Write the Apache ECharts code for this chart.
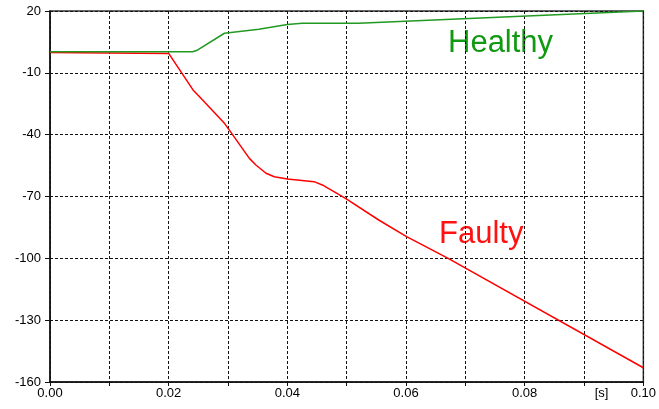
<!DOCTYPE html>
<html>
<head>
<meta charset="utf-8">
<script src="https://cdn.jsdelivr.net/npm/echarts@6/dist/echarts.min.js"></script>
<style>
html,body{margin:0;padding:0;background:#fff;}
#c{width:659px;height:409px;}
</style>
</head>
<body>
<div id="c"></div>
<script>
// Time values [s] and voltage/value series
const healthyX = [0, 0.022, 0.024, 0.0247, 0.0294, 0.0352, 0.0400, 0.0425, 0.0520, 0.1000];
const healthyY = [0.2, 0.2, 0.2, 0.8, 9.2, 11.1, 13.5, 14.0, 14.0, 20.0];
const faultyX = [0, 0.0200, 0.0241, 0.0252, 0.0294, 0.0302, 0.0336, 0.0347, 0.0364, 0.0378, 0.0400, 0.0445, 0.0459, 0.0498, 0.0554, 0.0601, 0.0671, 0.1000];
const faultyY = [-0.1, -0.6, -18.3, -21.6, -34.5, -37.7, -51.5, -54.7, -58.7, -60.4, -61.5, -62.8, -64.4, -70.9, -81.4, -89.5, -100.0, -153.1];
const xTickLabels = ['0.00', '', '0.02', '', '0.04', '', '0.06', '', '0.08', '[s]', '0.10'];
const seriesNames = ['Healthy', 'Faulty'];

const font = '"Liberation Sans", Arial, sans-serif';
const zip = (xs, ys) => xs.map((x, i) => [x, ys[i]]);

const chart = echarts.init(document.getElementById('c'), null, {renderer: 'canvas'});
chart.setOption({
  animation: false,
  backgroundColor: '#fff',
  grid: {left: 50, right: 13, top: 11, bottom: 27, show: true, borderColor: '#333', borderWidth: 1.5, backgroundColor: 'transparent'},
  xAxis: {
    type: 'value', min: 0, max: 0.1, interval: 0.01,
    axisLine: {show: true, onZero: false, lineStyle: {color: '#111', width: 1.5}},
    axisTick: {show: true, inside: false, length: 4, lineStyle: {color: '#111', width: 1}},
    splitLine: {show: true, lineStyle: {color: '#111', type: [3, 2], width: 1}},
    axisLabel: {
      color: '#000', fontSize: 13, fontFamily: font, margin: 5,
      formatter: (v, i) => {
        const idx = Math.round(v * 100);
        const t = xTickLabels[idx] || '';
        return t === '[s]' ? '{u|[s]}' : t;
      },
      rich: {u: {color: '#000', fontSize: 13, fontFamily: font, padding: [0, 0, 0, 35]}}
    }
  },
  yAxis: {
    type: 'value', min: -160, max: 20, interval: 30,
    axisLine: {show: true, onZero: false, lineStyle: {color: '#111', width: 1.5}},
    axisTick: {show: true, inside: false, length: 5, lineStyle: {color: '#111', width: 1}},
    splitLine: {show: true, lineStyle: {color: '#111', type: [3, 2], width: 1}},
    axisLabel: {color: '#000', fontSize: 13, fontFamily: font, margin: 9}
  },
  series: [
    {name: seriesNames[0], type: 'line', data: zip(healthyX, healthyY), showSymbol: false, symbol: 'none',
     lineStyle: {color: '#229922', width: 1.5}, z: 3},
    {name: seriesNames[1], type: 'line', data: zip(faultyX, faultyY), showSymbol: false, symbol: 'none',
     lineStyle: {color: '#ff0000', width: 1.5}, z: 2}
  ],
  graphic: [
    {type: 'text', left: 448, top: 28, style: {text: seriesNames[0], fill: '#119911', font: '31px ' + font}},
    {type: 'text', left: 439, top: 219, style: {text: seriesNames[1], fill: '#ff1111', font: '31px ' + font}}
  ]
});
</script>
</body>
</html>
